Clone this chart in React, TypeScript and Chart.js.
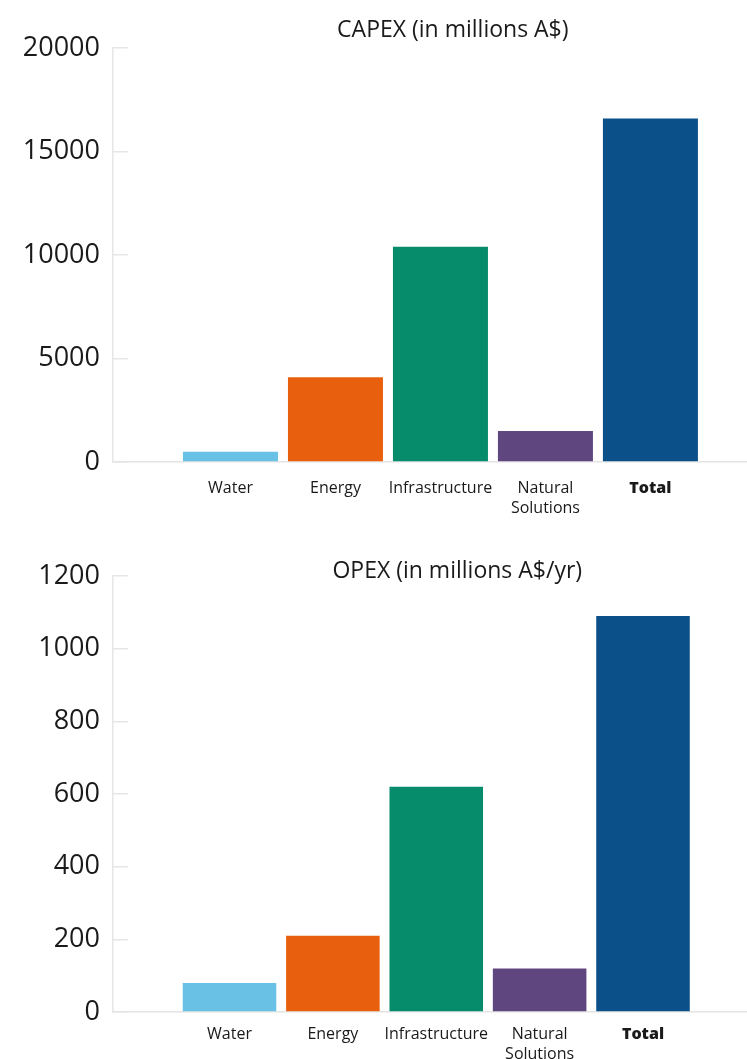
import React, { useEffect, useRef } from 'react';
import { Chart, registerables } from 'chart.js';

Chart.register(...registerables);

const FONT = "'Open Sans', 'Noto Sans', sans-serif";

const categories = ['Water', 'Energy', 'Infrastructure', 'Natural Solutions', 'Total'];
const categoryTickLabels: (string | string[])[] = ['Water', 'Energy', 'Infrastructure', ['Natural', 'Solutions'], 'Total'];
const barColors = ['#69c2e6', '#e8600e', '#068b6b', '#60467e', '#0c508a'];

const capexValues = [500, 4100, 10400, 1500, 16600];
const opexValues = [80, 210, 620, 120, 1090];

const capexTicks = [0, 5000, 10000, 15000, 20000];
const opexTicks = [0, 200, 400, 600, 800, 1000, 1200];

const capexTitle = 'CAPEX (in millions A$)';
const opexTitle = 'OPEX (in millions A$/yr)';

const titlePlugin = {
  id: 'sideTitle',
  afterDraw(chart: any, _args: any, opts: any) {
    const { ctx, chartArea } = chart;
    ctx.save();
    ctx.font = `${opts.size}px ${FONT}`;
    ctx.fillStyle = '#1a1a1a';
    ctx.textAlign = 'center';
    ctx.textBaseline = 'middle';
    const x = chartArea.left + (chartArea.right - chartArea.left) * opts.xFrac;
    ctx.fillText(opts.text, x, chartArea.top + opts.dy);
    ctx.restore();
  },
};

function makeConfig(
  values: number[],
  yTicks: number[],
  title: string,
  xMin: number,
  xMax: number,
  padTop: number,
  xAxisHeight: number,
  xPad: number,
  titleFrac: number,
  titleDy: number
): any {
  return {
    type: 'bar',
    data: {
      labels: categories,
      datasets: [
        {
          data: values.map((v, i) => ({ x: i, y: v })),
          backgroundColor: barColors,
          borderWidth: 0,
          categoryPercentage: 1,
          barPercentage: 0.905,
        },
      ],
    },
    options: {
      animation: false,
      responsive: false,
      maintainAspectRatio: false,
      layout: { padding: { top: padTop, left: 8, right: 0, bottom: 0 } },
      plugins: {
        legend: { display: false },
        tooltip: { enabled: false },
        title: { display: false },
        sideTitle: { text: title, size: 23, xFrac: titleFrac, dy: titleDy },
      },
      scales: {
        x: {
          type: 'linear',
          min: xMin,
          max: xMax,
          offset: false,
          grid: { display: false, offset: false },
          border: { display: true, color: '#e4e4e4', width: 1.5 },
          afterFit: (scale: any) => {
            scale.height = xAxisHeight;
          },
          afterBuildTicks: (scale: any) => {
            scale.ticks = categories.map((_, i) => ({ value: i }));
          },
          ticks: {
            autoSkip: false,
            maxRotation: 0,
            minRotation: 0,
            padding: xPad,
            color: '#1a1a1a',
            callback: (v: number) => categoryTickLabels[v] ?? '',
            font: (ctx: any) => ({
              family: FONT,
              size: 16,
              weight: ctx.tick && ctx.tick.value === 4 ? 800 : 'normal',
              lineHeight: 1.25,
            }),
          },
        },
        y: {
          min: yTicks[0],
          max: yTicks[yTicks.length - 1],
          afterFit: (scale: any) => {
            scale.width = 105;
          },
          afterBuildTicks: (scale: any) => {
            scale.ticks = yTicks.map((v) => ({ value: v }));
          },
          grid: {
            display: true,
            drawOnChartArea: false,
            drawTicks: true,
            tickLength: -15,
            color: '#e6e6e6',
            lineWidth: 1.5,
          },
          border: { display: true, color: '#e6e6e6', width: 1.5 },
          ticks: {
            padding: 28,
            color: '#1a1a1a',
            font: { family: FONT, size: 27 },
            callback: (v: number) => String(v),
          },
        },
      },
    },
    plugins: [titlePlugin],
  };
}

function BarPanel(props: { top: number; height: number; build: () => any }) {
  const ref = useRef<HTMLCanvasElement>(null);
  useEffect(() => {
    const chart = new Chart(ref.current as HTMLCanvasElement, props.build());
    return () => chart.destroy();
  }, []);
  return (
    <canvas
      ref={ref}
      width={747}
      height={props.height}
      style={{ position: 'absolute', left: 0, top: props.top, width: 747, height: props.height }}
    />
  );
}

export default function App() {
  return (
    <div style={{ position: 'absolute', left: 0, top: 0, width: 747, height: 1059, background: '#fff', overflow: 'hidden' }}>
      <BarPanel
        top={0}
        height={530}
        build={() => makeConfig(capexValues, capexTicks, capexTitle, -1.119, 4.92, 48, 68, 8, 0.536, -18)}
      />
      <BarPanel
        top={530}
        height={529}
        build={() => makeConfig(opexValues, opexTicks, opexTitle, -1.127, 5.006, 46, 47, 4, 0.543, -5)}
      />
    </div>
  );
}
